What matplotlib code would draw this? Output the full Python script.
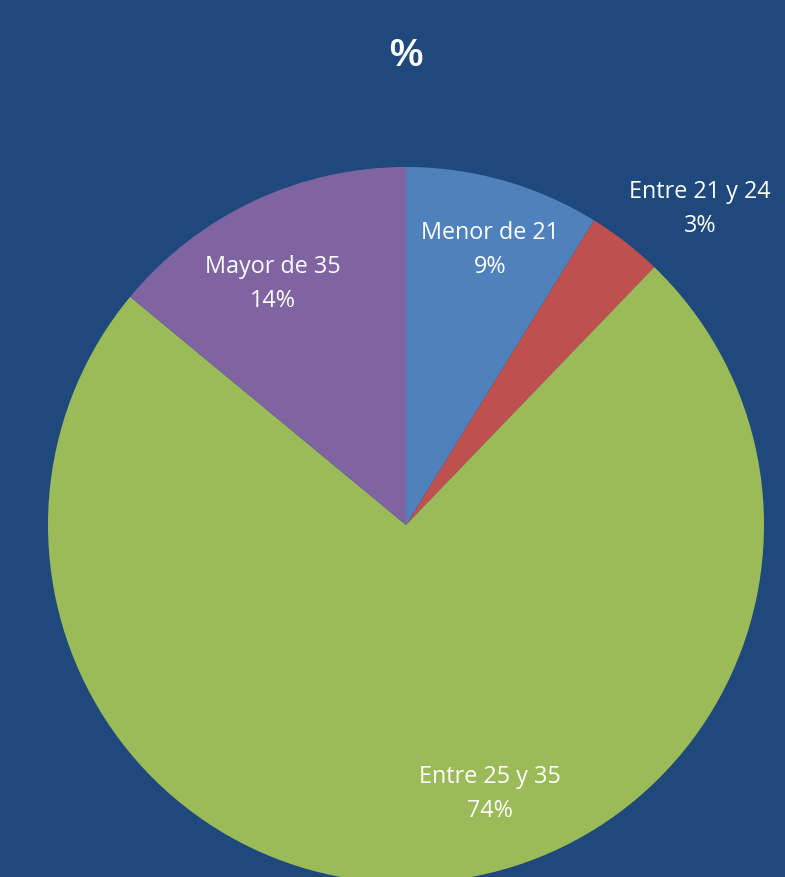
import matplotlib
matplotlib.use("Agg")
import matplotlib.pyplot as plt

categories = ["Menor de 21", "Entre 21 y 24", "Entre 25 y 35", "Mayor de 35"]
values = [8.8, 3.4, 73.8, 14.0]
pct_labels = ["9%", "3%", "74%", "14%"]
colors = ["#4F81BD", "#C0504D", "#9BBB59", "#8064A2"]
label_pos = [(490, 250), (700, 209), (490, 794), (273, 284)]  # pixel coords from top

W, H = 785, 877
bg = "#1F497D"
fig = plt.figure(figsize=(W / 100, H / 100), dpi=100, facecolor=bg)
ax = fig.add_axes([0, 0, 1, 1])
ax.set_facecolor(bg)

cx, cy, r = 406, H - 525, 358
ax.pie(values, colors=colors, startangle=90, counterclock=False,
       center=(cx, cy), radius=r, frame=True,
       wedgeprops=dict(linewidth=0, edgecolor="none"))
ax.set_xlim(0, W)
ax.set_ylim(0, H)
ax.set_aspect("auto")
ax.axis("off")

for cat, pl, (x, y) in zip(categories, pct_labels, label_pos):
    ax.text(x, H - y, cat + "\n" + pl, ha="center", va="center",
            color="white", fontsize=16.8, family="Open Sans", linespacing=1.55)

fig.text(406 / W, 1 - 56 / H, "%", ha="center", va="center", color="white",
         fontsize=27, fontweight="bold", family="Liberation Sans")

fig.savefig("out.png", dpi=100, facecolor=bg)
